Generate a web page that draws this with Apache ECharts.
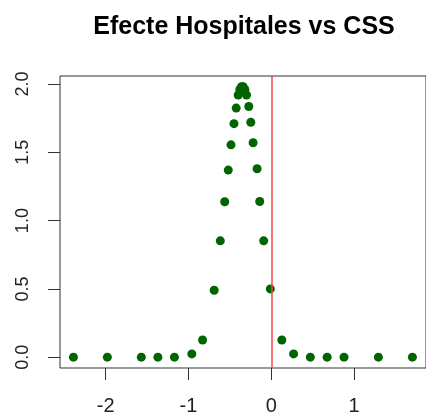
<!DOCTYPE html>
<html>
<head>
<meta charset="utf-8">
<script src="https://cdn.jsdelivr.net/npm/echarts@6/dist/echarts.min.js"></script>
<style>
  html, body { margin: 0; padding: 0; background: #fff; }
  #chart { width: 426px; height: 416px; }
</style>
</head>
<body>
<div id="chart"></div>
<script>
// Effect estimates (x) and their density (y)
const effectX = [-2.39, -1.98, -1.57, -1.37, -1.17, -0.96, -0.83, -0.69, -0.616, -0.563,
  -0.52, -0.487, -0.451, -0.424, -0.40, -0.38, -0.36, -0.34, -0.32, -0.30,
  -0.272, -0.248, -0.22, -0.172, -0.14, -0.092, -0.012, 0.127, 0.269, 0.471,
  0.674, 0.878, 1.293, 1.704];
const densityY = [0, 0, 0, 0, 0, 0.024, 0.126, 0.49, 0.852, 1.138,
  1.37, 1.555, 1.71, 1.824, 1.92, 1.96, 1.98, 1.98, 1.96, 1.92,
  1.836, 1.72, 1.57, 1.38, 1.14, 0.852, 0.50, 0.126, 0.024, 0,
  0, 0, 0, 0];
const xTicks = [-2, -1, 0, 1];
const yTicks = [0, 0.5, 1, 1.5, 2];
const referenceX = 0;
const titleText = 'Efecte Hospitales vs CSS';

const FONT = '"Liberation Sans", Arial, sans-serif';

const points = effectX.map((x, i) => [x, densityY[i]]);

const chart = echarts.init(document.getElementById('chart'), null, { renderer: 'canvas' });
chart.setOption({
  animation: false,
  backgroundColor: '#ffffff',
  graphic: [{
    type: 'text',
    x: 244,
    y: 27,
    style: {
      text: titleText,
      textAlign: 'center',
      textVerticalAlign: 'middle',
      font: 'bold 25px ' + FONT,
      fill: '#000'
    }
  }],
  grid: {
    left: 60, top: 76, right: -3, bottom: 46,
    show: true, borderColor: '#333', borderWidth: 1, backgroundColor: 'transparent'
  },
  xAxis: {
    type: 'value',
    min: -2.552, max: 1.868,
    splitLine: { show: false },
    axisLine: { show: false, onZero: false },
    axisTick: { show: true, inside: false, length: 12, lineStyle: { color: '#333' }, customValues: xTicks },
    axisLabel: {
      customValues: xTicks,
      margin: 28, fontSize: 20, fontFamily: FONT, color: '#222',
      formatter: v => String(v)
    }
  },
  yAxis: {
    type: 'value',
    min: -0.0792, max: 2.059,
    splitLine: { show: false },
    axisLine: { show: false, onZero: false },
    axisTick: { show: true, inside: false, length: 12, lineStyle: { color: '#333' }, customValues: yTicks },
    axisLabel: {
      customValues: yTicks,
      rotate: 90, margin: 28, fontSize: 18, fontFamily: FONT, color: '#222',
      formatter: v => v.toFixed(1)
    }
  },
  series: [{
    type: 'scatter',
    data: points,
    symbol: 'circle',
    symbolSize: 9,
    itemStyle: { color: '#006400', opacity: 1 },
    markLine: {
      silent: true,
      symbol: ['none', 'none'],
      label: { show: false },
      lineStyle: { color: '#f04848', width: 1.5, type: 'solid' },
      data: [{ xAxis: referenceX }]
    },
    z: 3
  }]
});
</script>
</body>
</html>
